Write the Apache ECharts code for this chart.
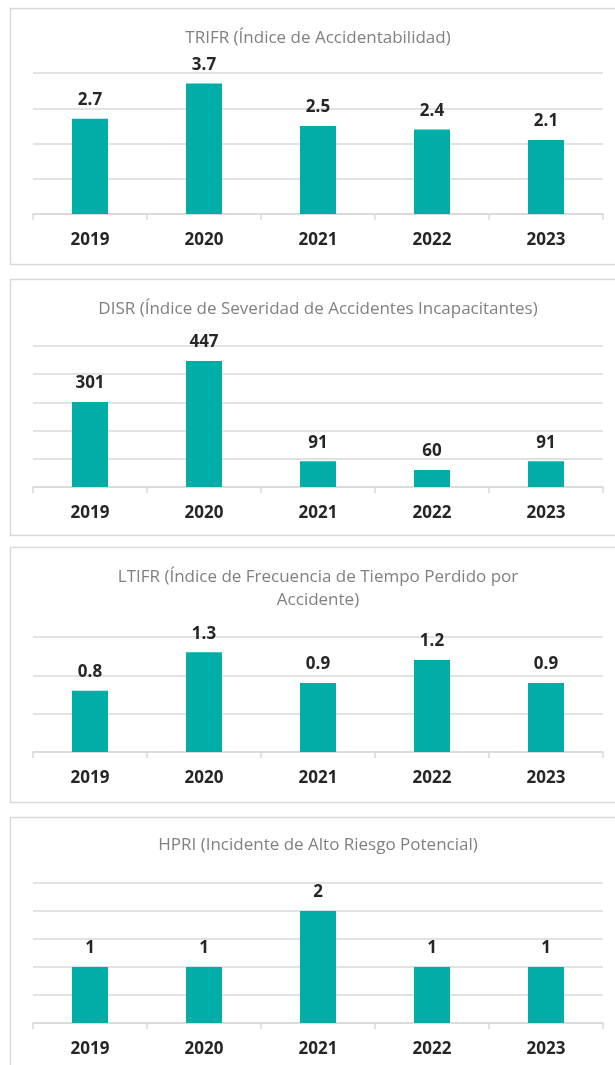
<!DOCTYPE html>
<html>
<head>
<meta charset="utf-8">
<script src="https://cdn.jsdelivr.net/npm/echarts@6/dist/echarts.min.js"></script>
<style>
	html, body { margin: 0; padding: 0; background: #fff; }
	#main { width: 615px; height: 1065px; }
</style>
</head>
<body>
<div id="main"></div>
<script>
const years = ['2019', '2020', '2021', '2022', '2023'];

const trifr = [2.7, 3.7, 2.5, 2.4, 2.1];
const disr = [301, 447, 91, 60, 91];
const ltifr = [0.8, 1.3, 0.9, 1.2, 0.9];
const hpri = [1, 1, 2, 1, 1];

const titles = [
	'TRIFR (Índice de Accidentabilidad)',
	'DISR (Índice de Severidad de Accidentes Incapacitantes)',
	'LTIFR (Índice de Frecuencia de Tiempo Perdido por\nAccidente)',
	'HPRI (Incidente de Alto Riesgo Potencial)'
];
const yMax = [4, 500, 1.5, 2.5];
const yStep = [1, 100, 0.5, 0.5];

// panel layout (px)
const panels = [
	{ box: [8, 256], title: 26.5, grid: [73, 141] },
	{ box: [279, 256], title: 297.5, grid: [346, 141] },
	{ box: [547, 255], title: 565.5, grid: [637, 115] },
	{ box: [817, 262], title: 833.5, grid: [883, 140] }
];

const BAR = '#00ADA7';
const LINE = '#d9d9d9';
const FONT = '"Open Sans", "Noto Sans", sans-serif';

let chart = echarts.init(document.getElementById('main'), null, { renderer: 'canvas' });

const allData = [trifr, disr, ltifr, hpri];

var option = {
	animation: false,
	backgroundColor: '#fff',
	title: titles.map(function (t, i) {
		return {
			text: t,
			left: 318,
			top: panels[i].title,
			padding: 0,
			textAlign: 'center',
			textStyle: {
				fontFamily: FONT,
				fontSize: 17,
				fontWeight: 'normal',
				color: '#808080',
				lineHeight: 23,
				align: 'center'
			}
		};
	}),
	graphic: panels.map(function (p) {
		return {
			type: 'rect',
			silent: true,
			shape: { x: 10.5, y: p.box[0] + 0.5, width: 640, height: p.box[1] },
			style: { fill: 'none', stroke: LINE, lineWidth: 1.5 }
		};
	}),
	grid: panels.map(function (p) {
		return { left: 33, right: 12, top: p.grid[0], height: p.grid[1] };
	}),
	xAxis: panels.map(function (p, i) {
		return {
			type: 'category',
			gridIndex: i,
			data: years,
			axisLine: { lineStyle: { color: LINE, width: 1.5 } },
			axisTick: { show: true, length: 6, lineStyle: { color: LINE, width: 1.5 } },
			axisLabel: {
				margin: 18,
				fontFamily: FONT,
				fontSize: 17,
				fontWeight: 'bold',
				color: '#262626'
			}
		};
	}),
	yAxis: panels.map(function (p, i) {
		return {
			type: 'value',
			gridIndex: i,
			min: 0,
			max: yMax[i],
			interval: yStep[i],
			axisLabel: { show: false },
			axisLine: { show: false },
			axisTick: { show: false },
			splitLine: { lineStyle: { color: LINE, width: 1.5 } }
		};
	}),
	series: allData.map(function (d, i) {
		return {
			type: 'bar',
			xAxisIndex: i,
			yAxisIndex: i,
			data: d,
			barWidth: 36,
			itemStyle: { color: BAR },
			label: {
				show: true,
				position: 'top',
				distance: 10,
				fontFamily: FONT,
				fontSize: 17,
				fontWeight: 'bold',
				color: '#262626'
			}
		};
	})
};

chart.setOption(option);
</script>
</body>
</html>
